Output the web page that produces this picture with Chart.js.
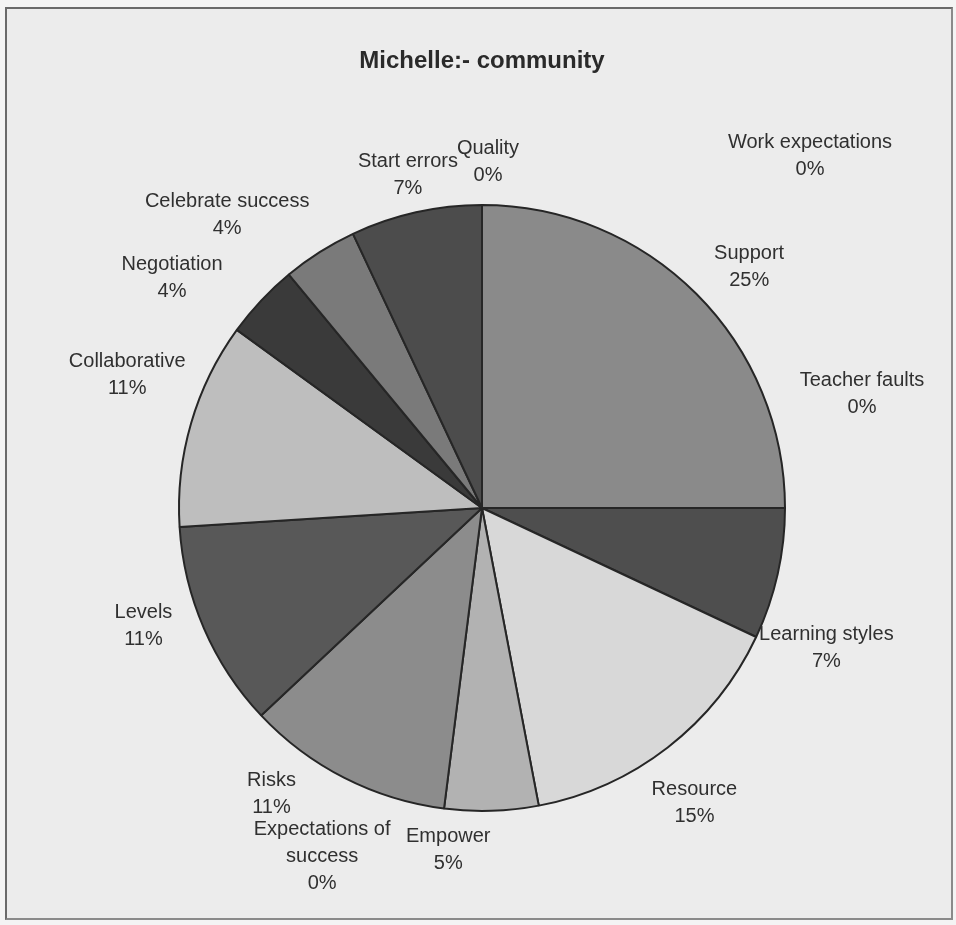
<!DOCTYPE html>
<html>
<head>
<meta charset="utf-8">
<title>Michelle:- community</title>
<script src="https://cdn.jsdelivr.net/npm/chart.js@4/dist/chart.umd.min.js"></script>
<style>
  body { margin: 0; background: #f4f4f4; }
  .wrap { position: relative; width: 956px; height: 925px; }
  .frame {
    position: absolute; left: 5px; top: 7px; width: 944px; height: 909px;
    border-top: 2px solid #6a6a6a; border-left: 2px solid #6a6a6a;
    border-right: 2px solid #8a8a8a; border-bottom: 2px solid #8a8a8a;
    background: #ececec;
  }
  canvas { position: absolute; left: 0; top: 0; }
</style>
</head>
<body>
<div class="wrap">
  <div class="frame"></div>
  <canvas id="communityChart" width="956" height="925"></canvas>
</div>
<script>
// categories, clockwise from 12 o'clock
var categories = [
  "Work expectations", "Support", "Teacher faults", "Learning styles",
  "Resource", "Empower", ["Expectations of", "success"], "Risks",
  "Levels", "Collaborative", "Negotiation", "Celebrate success",
  "Start errors", "Quality"
];
// share of responses, %
var shares = [0, 25, 0, 7, 15, 5, 0, 11, 11, 11, 4, 4, 7, 0];

var sliceGrays = [
  "#999999", "#8a8a8a", "#999999", "#4e4e4e", "#d8d8d8", "#b2b2b2", "#999999",
  "#8c8c8c", "#585858", "#bebebe", "#3a3a3a", "#7a7a7a", "#4c4c4c", "#999999"
];

// hand tweaks for the outside labels, px from the default spot
var labelShift = [
  [328, 6], [14, 12], [22, -114], [-5, 62], [-7, 12], [-45, -16], [-115, -7],
  [-48, -33], [-10, -24], [-11, -33], [-49, 15], [-63, 9], [4, 16], [6, 12]
];

var FONT = '"Liberation Sans", Arial, sans-serif';

// name + percentage outside each slice
var pieLabels = {
  id: "pieLabels",
  afterDatasetsDraw: function (chart) {
    var ctx = chart.ctx;
    var meta = chart.getDatasetMeta(0);
    var data = chart.data.datasets[0].data;
    var total = data.reduce(function (a, b) { return a + b; }, 0);
    ctx.save();
    ctx.font = "20px " + FONT;
    ctx.fillStyle = "#303030";
    ctx.textAlign = "center";
    ctx.textBaseline = "middle";
    meta.data.forEach(function (arc, i) {
      var p = arc.getProps(["x", "y", "startAngle", "endAngle", "outerRadius"], true);
      var mid = (p.startAngle + p.endAngle) / 2;
      var r = p.outerRadius + 55;
      var lx = p.x + Math.cos(mid) * r + labelShift[i][0];
      var ly = p.y + Math.sin(mid) * r + labelShift[i][1];
      var name = chart.data.labels[i];
      var lines = [].concat(name, Math.round(data[i] / total * 100) + "%");
      var lh = 27;
      var y0 = ly - (lines.length - 1) * lh / 2;
      lines.forEach(function (t, k) {
        ctx.fillText(t, lx, y0 + k * lh);
      });
    });
    ctx.restore();
  }
};

var ctx = document.getElementById("communityChart");
var myChart = new Chart(ctx, {
  type: "pie",
  data: {
    labels: categories,
    datasets: [
      {
        data: shares,
        backgroundColor: sliceGrays,
        borderColor: "#262626",
        borderWidth: 2,
        radius: 303,
      },
    ],
  },
  options: {
    responsive: false,
    animation: false,
    events: [],
    layout: { padding: { left: 8, right: 0, top: 0, bottom: 0 } },
    plugins: {
      legend: { display: false },
      tooltip: { enabled: false },
      title: {
        display: true,
        text: "Michelle:- community",
        color: "#2a2a2a",
        font: { family: FONT, size: 24, weight: "bold" },
        padding: { top: 47, bottom: 15.2 },
      },
    },
  },
  plugins: [pieLabels],
});
</script>
</body>
</html>
